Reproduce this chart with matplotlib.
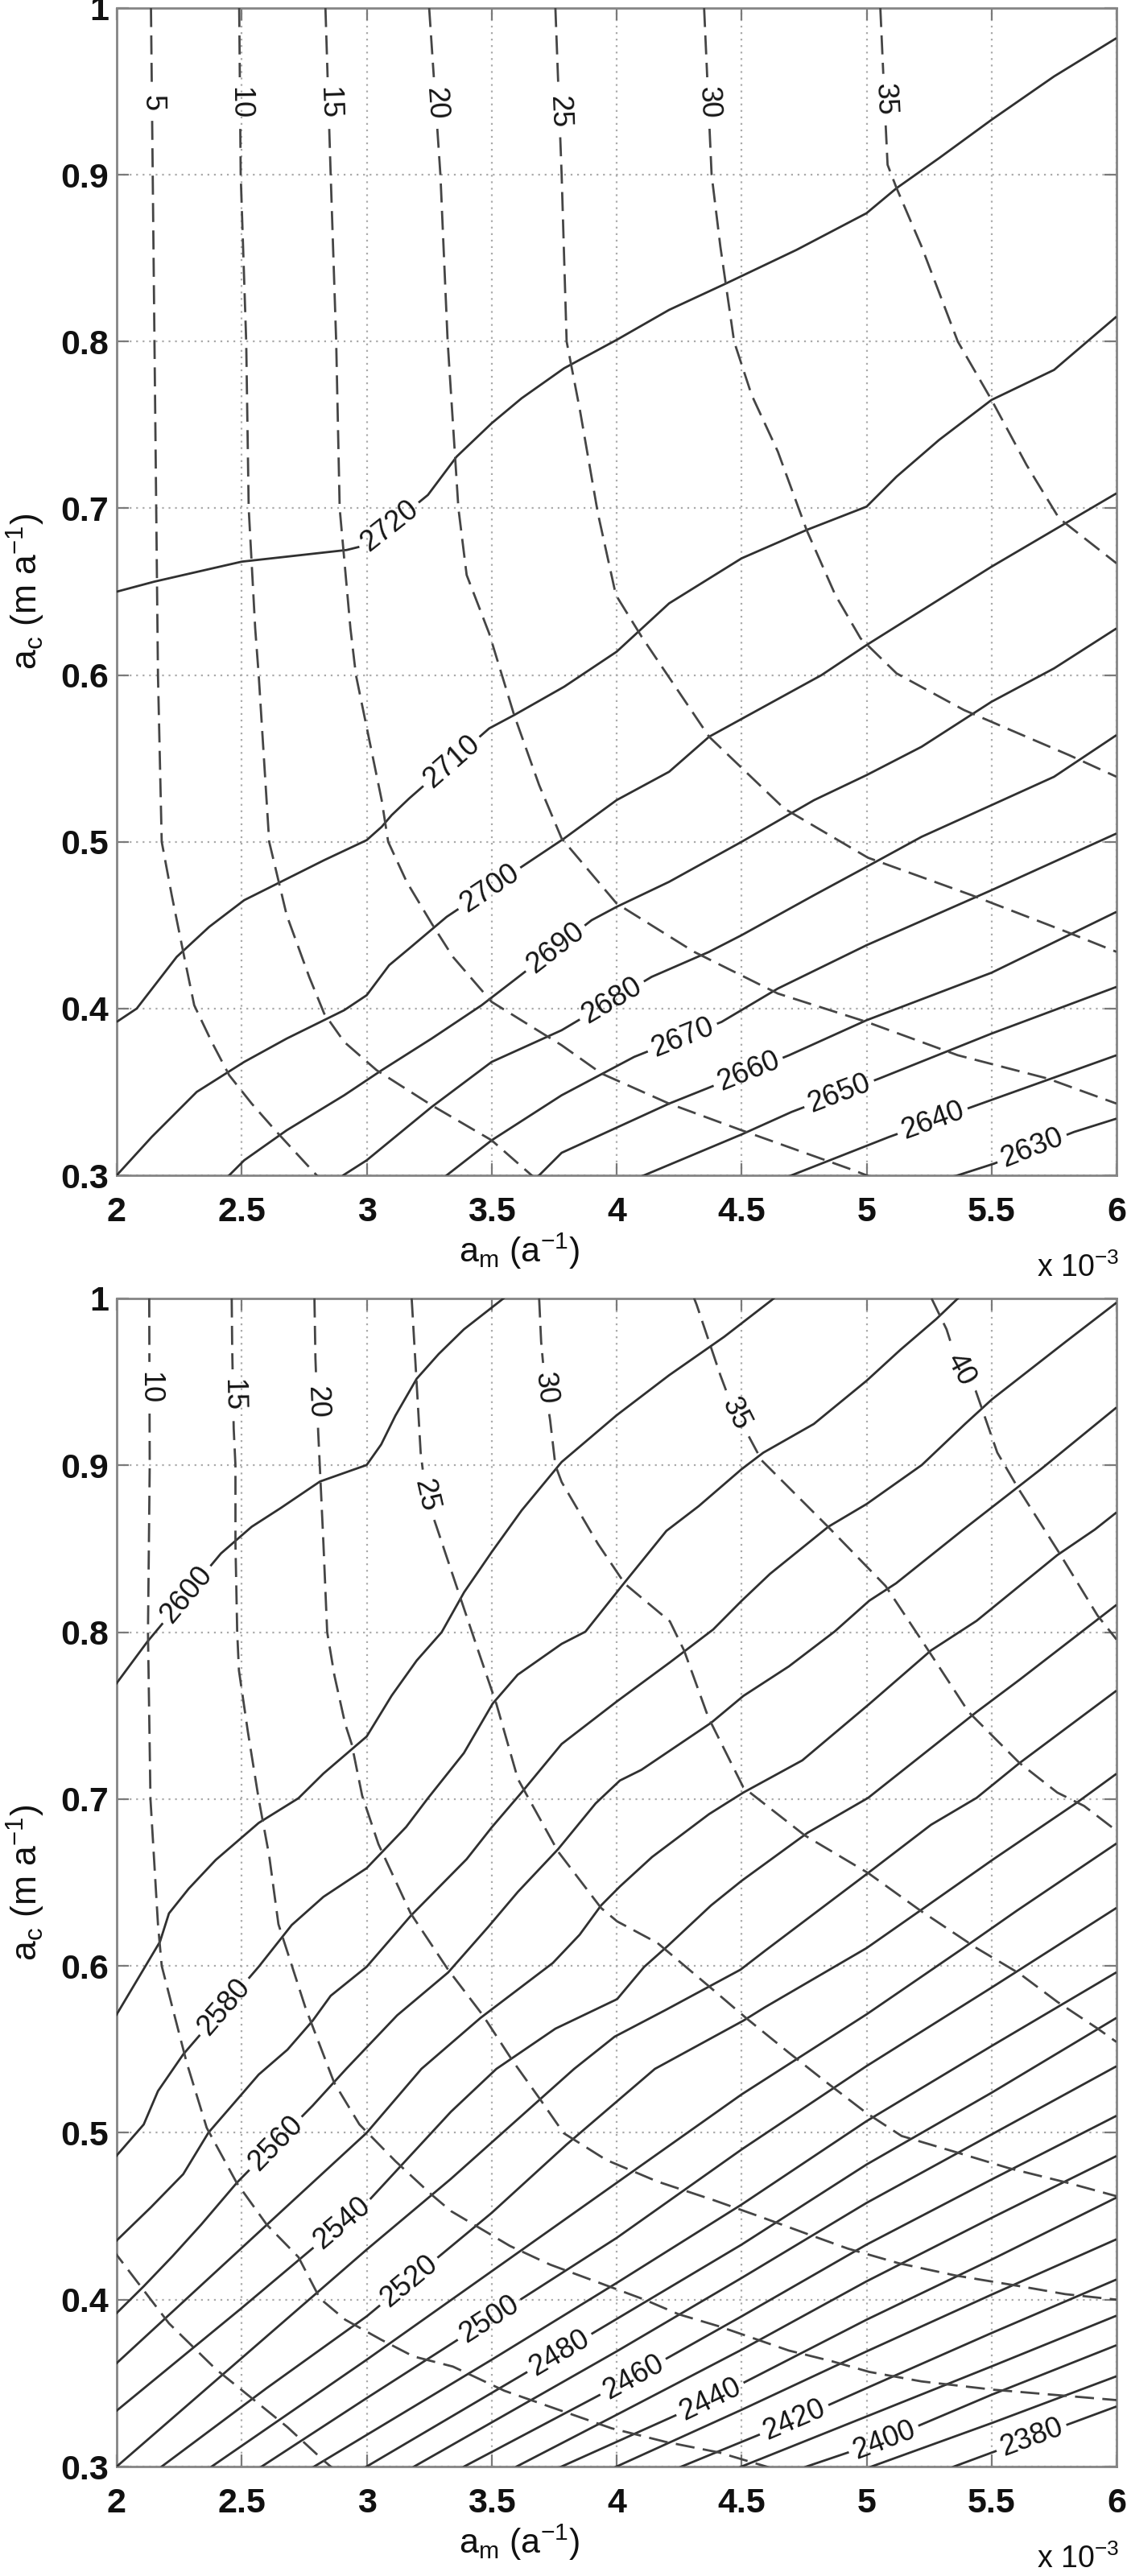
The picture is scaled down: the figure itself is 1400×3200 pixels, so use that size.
import numpy as np
import matplotlib
matplotlib.use("Agg")
import matplotlib.pyplot as plt

plt.rcParams["font.family"] = ["Liberation Sans", "DejaVu Sans"]
plt.rcParams["mathtext.default"] = "regular"
plt.rcParams["lines.scale_dashes"] = False

# ---------------- axis ticks ----------------
am_ticks = [2, 2.5, 3, 3.5, 4, 4.5, 5, 5.5, 6]          # a_m in units of 1e-3 a^-1
am_tick_labels = ["2", "2.5", "3", "3.5", "4", "4.5", "5", "5.5", "6"]
ac_ticks = [0.3, 0.4, 0.5, 0.6, 0.7, 0.8, 0.9, 1.0]
ac_tick_labels = ["0.3", "0.4", "0.5", "0.6", "0.7", "0.8", "0.9", "1"]

# ---------------- top panel : solid contours ----------------
top_solid_levels = [2720, 2710, 2700, 2690, 2680, 2670, 2660, 2650, 2640, 2630]
top_solid_am = [
    [2.0, 2.15, 2.5, 2.92, 3.0, 3.245, 3.36, 3.5, 3.62, 3.79, 4.0, 4.21, 4.44, 4.72, 5.0, 5.12, 5.29, 5.5, 5.75, 6.0],
    [2.0, 2.08, 2.24, 2.37, 2.51, 2.63, 2.83, 3.0, 3.06, 3.10, 3.17, 3.49, 3.59, 3.79, 4.0, 4.21, 4.5, 4.76, 5.0, 5.12, 5.29, 5.5, 5.75, 6.0],
    [1.98, 2.0, 2.14, 2.32, 2.51, 2.68, 2.91, 3.0, 3.09, 3.17, 3.32, 3.65, 3.79, 4.0, 4.21, 4.37, 4.82, 5.0, 5.5, 5.75, 6.0],
    [2.40, 2.45, 2.51, 2.68, 2.91, 3.06, 3.26, 3.46, 3.59, 3.90, 4.0, 4.21, 4.5, 4.79, 5.0, 5.22, 5.5, 5.75, 6.0],
    [2.85, 2.906, 3.0, 3.26, 3.5, 3.78, 4.14, 4.37, 4.5, 4.79, 5.0, 5.22, 5.5, 5.75, 6.0],
    [3.25, 3.32, 3.5, 3.78, 4.07, 4.42, 4.645, 5.0, 5.5, 6.0],
    [3.6, 3.69, 3.78, 4.21, 4.36, 4.69, 5.0, 5.5, 6.0],
    [4.0, 4.11, 4.5, 4.70, 5.05, 5.5, 6.0],
    [4.6, 4.70, 5.09, 5.44, 6.0],
    [5.25, 5.365, 5.51, 5.83, 6.0],
]
top_solid_ac = [
    [0.650, 0.656, 0.668, 0.675, 0.678, 0.708, 0.731, 0.751, 0.766, 0.784, 0.801, 0.819, 0.835, 0.855, 0.877, 0.892, 0.910, 0.933, 0.959, 0.982],
    [0.392, 0.400, 0.431, 0.449, 0.465, 0.474, 0.489, 0.501, 0.509, 0.516, 0.526, 0.568, 0.576, 0.593, 0.614, 0.643, 0.670, 0.687, 0.701, 0.719, 0.741, 0.765, 0.783, 0.815],
    [0.297, 0.300, 0.323, 0.350, 0.368, 0.382, 0.399, 0.408, 0.426, 0.436, 0.455, 0.488, 0.502, 0.525, 0.542, 0.563, 0.600, 0.618, 0.665, 0.687, 0.709],
    [0.292, 0.300, 0.309, 0.327, 0.348, 0.363, 0.382, 0.402, 0.417, 0.453, 0.461, 0.476, 0.500, 0.525, 0.540, 0.557, 0.584, 0.604, 0.628],
    [0.292, 0.300, 0.309, 0.341, 0.368, 0.387, 0.419, 0.434, 0.444, 0.468, 0.485, 0.503, 0.522, 0.539, 0.564],
    [0.291, 0.300, 0.321, 0.348, 0.371, 0.392, 0.412, 0.438, 0.471, 0.505],
    [0.291, 0.300, 0.3135, 0.343, 0.352, 0.372, 0.393, 0.4215, 0.458],
    [0.294, 0.300, 0.3245, 0.338, 0.358, 0.385, 0.413],
    [0.295, 0.300, 0.323, 0.342, 0.372],
    [0.295, 0.300, 0.307, 0.326, 0.334],
]
top_solid_label_at = [(3.11, 0.686), (3.34, 0.548), (3.50, 0.47), (3.76, 0.435), (4.0, 0.40),
                      (4.27, 0.38), (4.54, 0.357), (4.90, 0.345), (5.27, 0.33), (5.67, 0.313)]

# ---------------- top panel : dashed contours ----------------
top_dash_levels = [5, 10, 15, 20, 25, 30, 35]
top_dash_am = [
    [2.137, 2.144, 2.151, 2.158, 2.165, 2.18, 2.22, 2.27, 2.31, 2.38, 2.45, 2.54, 2.64, 2.80, 2.86],
    [2.49, 2.496, 2.518, 2.528, 2.554, 2.568, 2.61, 2.68, 2.77, 2.83, 2.91, 3.04, 3.26, 3.5, 3.66, 3.73],
    [2.835, 2.856, 2.878, 2.892, 2.935, 2.957, 3.06, 3.086, 3.16, 3.26, 3.345, 3.5, 3.78, 3.94, 4.21, 4.5, 4.93, 5.0, 5.05],
    [3.25, 3.295, 3.324, 3.367, 3.40, 3.49, 3.59, 3.69, 3.78, 4.0, 4.31, 4.645, 5.0, 5.365, 5.725, 6.0],
    [3.755, 3.78, 3.80, 3.853, 3.925, 3.997, 4.10, 4.37, 4.67, 5.005, 5.42, 5.80, 6.0],
    [4.35, 4.38, 4.415, 4.47, 4.54, 4.645, 4.76, 4.875, 4.976, 5.12, 5.39, 5.81, 6.0],
    [5.055, 5.07, 5.084, 5.12, 5.22, 5.365, 5.5, 5.64, 5.77, 6.0],
]
top_dash_ac = [
    [1.0, 0.9, 0.8, 0.7, 0.6, 0.5, 0.468, 0.431, 0.402, 0.38, 0.36, 0.343, 0.326, 0.3, 0.291],
    [1.0, 0.9, 0.8, 0.7, 0.628, 0.6, 0.5, 0.456, 0.419, 0.397, 0.38, 0.363, 0.342, 0.321, 0.3, 0.291],
    [1.0, 0.9, 0.8, 0.7, 0.628, 0.6, 0.525, 0.5, 0.476, 0.451, 0.431, 0.404, 0.378, 0.361, 0.343, 0.327, 0.304, 0.3, 0.297],
    [1.0, 0.9, 0.8, 0.7, 0.66, 0.625, 0.576, 0.534, 0.502, 0.463, 0.434, 0.409, 0.392, 0.372, 0.358, 0.343],
    [1.0, 0.9, 0.8, 0.759, 0.697, 0.648, 0.623, 0.563, 0.520, 0.4905, 0.468, 0.446, 0.434],
    [1.0, 0.9, 0.857, 0.8, 0.768, 0.734, 0.687, 0.648, 0.622, 0.601, 0.579, 0.552, 0.539],
    [1.0, 0.95, 0.906, 0.892, 0.857, 0.8, 0.765, 0.726, 0.694, 0.667],
]
top_dash_label_at = [(2.14, 0.943), (2.49, 0.943), (2.845, 0.943), (3.27, 0.943),
                     (3.765, 0.938), (4.36, 0.943), (5.06, 0.945)]

# ---------------- bottom panel : solid contours ----------------
bot_solid_levels = [2600, 2590, 2580, 2570, 2560, 2550, 2540, 2530, 2520, 2510, 2500, 2490,
                    2480, 2470, 2460, 2450, 2440, 2430, 2420, 2410, 2400, 2390, 2380]
bot_solid_am = [
    [1.98, 2.0, 2.122, 2.417, 2.54, 2.655, 2.813, 3.0, 3.058, 3.115, 3.20, 3.288, 3.389, 3.547, 3.6],
    [1.98, 2.0, 2.173, 2.209, 2.288, 2.396, 2.568, 2.727, 2.827, 3.0, 3.10, 3.20, 3.30, 3.39, 3.50, 3.62, 3.78, 4.0, 4.21, 4.43, 4.62, 4.66],
    [1.98, 2.0, 2.108, 2.165, 2.266, 2.568, 2.70, 2.827, 3.0, 3.158, 3.245, 3.389, 3.504, 3.604, 3.78, 3.875, 4.026, 4.199, 4.328, 4.50, 4.587, 4.789, 5.0, 5.135, 5.279, 5.365, 5.40],
    [1.98, 2.0, 2.137, 2.266, 2.367, 2.482, 2.568, 2.683, 2.784, 2.856, 3.0, 3.176, 3.40, 3.5, 3.62, 3.78, 4.0, 4.213, 4.386, 4.50, 4.614, 4.847, 5.0, 5.221, 5.394, 5.502, 5.797, 6.0],
    [1.98, 2.0, 2.108, 2.223, 2.338, 2.482, 2.784, 2.918, 3.122, 3.326, 3.487, 3.605, 3.766, 3.916, 4.013, 4.099, 4.378, 4.507, 4.689, 4.872, 5.011, 5.118, 5.387, 5.7, 6.0],
    [1.98, 2.0, 2.5, 3.0, 3.219, 3.455, 3.745, 3.852, 3.938, 4.013, 4.142, 4.37, 4.507, 4.743, 5.011, 5.258, 5.44, 5.763, 5.913, 6.0],
    [1.98, 2.0, 2.5, 3.0, 3.337, 3.519, 3.755, 4.002, 4.11, 4.206, 4.378, 4.5, 4.764, 5.006, 5.44, 5.612, 6.0],
    [1.98, 2.0, 2.5, 3.0, 3.337, 3.83, 3.992, 4.196, 4.496, 4.593, 5.006, 5.258, 5.44, 5.612, 6.0],
    [2.15, 2.18, 2.6, 3.0, 3.5, 3.8, 4.153, 4.507, 4.593, 5.0, 5.215, 5.505, 5.838, 6.0],
    [2.35, 2.38, 3.0, 3.5, 4.0, 4.5, 5.0, 5.387, 5.602, 6.0],
    [2.55, 2.58, 3.0, 4.0, 4.5, 5.0, 5.5, 6.0],
    [2.76, 2.79, 3.5, 4.0, 4.5, 5.0, 5.5, 6.0],
    [2.97, 3.0, 3.771, 4.5, 5.0, 5.5, 6.0],
    [3.16, 3.19, 4.0, 4.5, 5.0, 5.5, 6.0],
    [3.36, 3.39, 4.065, 4.5, 5.0, 5.5, 6.0],
    [3.57, 3.60, 4.0, 4.5, 5.0, 5.5, 6.0],
    [3.75, 3.78, 4.375, 5.0, 5.5, 6.0],
    [3.97, 4.0, 4.5, 5.0, 5.5, 6.0],
    [4.23, 4.26, 4.711, 5.0, 5.5, 6.0],
    [4.47, 4.5, 5.0, 5.5, 6.0],
    [4.73, 4.76, 5.07, 5.5, 6.0],
    [4.99, 5.02, 5.5, 6.0],
    [5.32, 5.35, 6.0],
]
bot_solid_ac = [
    [0.765, 0.7695, 0.7942, 0.8472, 0.8632, 0.8743, 0.8903, 0.9002, 0.9125, 0.9298, 0.9519, 0.9667, 0.9815, 1.0, 1.006],
    [0.566, 0.571, 0.6145, 0.6315, 0.6463, 0.6635, 0.6857, 0.7005, 0.7153, 0.7375, 0.762, 0.783, 0.800, 0.824, 0.848, 0.873, 0.902, 0.930, 0.954, 0.977, 0.999, 1.004],
    [0.482, 0.4864, 0.505, 0.525, 0.547, 0.5995, 0.6245, 0.6414, 0.6586, 0.6833, 0.7005, 0.7276, 0.7572, 0.7745, 0.793, 0.8003, 0.8287, 0.8607, 0.8755, 0.8977, 0.9076, 0.9248, 0.9507, 0.9692, 0.9877, 1.0, 1.005],
    [0.432, 0.4355, 0.4554, 0.4752, 0.5001, 0.520, 0.5349, 0.5498, 0.5672, 0.5821, 0.5995, 0.630, 0.664, 0.683, 0.704, 0.733, 0.7584, 0.7819, 0.8016, 0.8188, 0.835, 0.8632, 0.8768, 0.9002, 0.9248, 0.9396, 0.9741, 0.9975],
    [0.389, 0.392, 0.408, 0.426, 0.445, 0.4703, 0.5163, 0.5383, 0.5704, 0.5961, 0.6235, 0.6444, 0.670, 0.6974, 0.7111, 0.7175, 0.7457, 0.7618, 0.7795, 0.8004, 0.8189, 0.8293, 0.8615, 0.898, 0.9347],
    [0.359, 0.362, 0.431, 0.500, 0.5383, 0.5688, 0.6018, 0.6187, 0.6363, 0.6476, 0.6653, 0.691, 0.7039, 0.7232, 0.757, 0.7891, 0.8068, 0.8462, 0.8615, 0.8718],
    [0.331, 0.3335, 0.395, 0.458, 0.5126, 0.5383, 0.5624, 0.5801, 0.5994, 0.6122, 0.6363, 0.651, 0.6798, 0.7007, 0.7522, 0.7715, 0.8164],
    [0.297, 0.300, 0.365, 0.43, 0.4724, 0.5383, 0.5576, 0.5736, 0.5978, 0.609, 0.6557, 0.6846, 0.7007, 0.7216, 0.765],
    [0.296, 0.300, 0.347, 0.39, 0.452, 0.493, 0.5383, 0.5672, 0.5752, 0.6107, 0.6332, 0.6637, 0.6975, 0.7152],
    [0.296, 0.300, 0.364, 0.417, 0.47, 0.523, 0.571, 0.6107, 0.6332, 0.6734],
    [0.297, 0.300, 0.341, 0.437, 0.49, 0.540, 0.587, 0.6348],
    [0.297, 0.300, 0.364, 0.41, 0.457, 0.507, 0.552, 0.5962],
    [0.297, 0.300, 0.368, 0.433, 0.481, 0.524, 0.5689],
    [0.297, 0.300, 0.369, 0.413, 0.458, 0.499, 0.5399],
    [0.297, 0.300, 0.3534, 0.39, 0.433, 0.472, 0.5102],
    [0.297, 0.300, 0.331, 0.37, 0.411, 0.449, 0.4861],
    [0.298, 0.300, 0.340, 0.388, 0.424, 0.4612],
    [0.298, 0.300, 0.334, 0.369, 0.403, 0.4362],
    [0.298, 0.300, 0.3277, 0.347, 0.38, 0.4121],
    [0.298, 0.300, 0.33, 0.36, 0.3904],
    [0.298, 0.300, 0.3157, 0.343, 0.3727],
    [0.298, 0.300, 0.326, 0.3541],
    [0.298, 0.300, 0.336],
]
bot_solid_label_at = [(2.30, 0.82), None, (2.45, 0.573), None, (2.66, 0.49), None, (2.91, 0.444), None,
                      (3.173, 0.41), None, (3.49, 0.388), None, (3.771, 0.368), None, (4.067, 0.3534), None,
                      (4.375, 0.340), None, (4.711, 0.3277), None, (5.07, 0.3157), None, (5.66, 0.317)]

# ---------------- bottom panel : dashed contours ----------------
bot_dash_levels = [5, 10, 15, 20, 25, 30, 35, 40]
bot_dash_am = [
    [1.98, 2.0, 2.108, 2.209, 2.396, 2.54, 2.683, 2.827, 2.856, 2.89],
    [2.13, 2.132, 2.125, 2.135, 2.165, 2.18, 2.223, 2.28, 2.36, 2.48, 2.6, 2.727, 2.813, 2.914, 3.058, 3.187, 3.345, 3.551, 3.766, 3.98, 4.195, 4.41, 4.625, 4.7],
    [2.46, 2.462, 2.468, 2.475, 2.475, 2.482, 2.489, 2.525, 2.568, 2.61, 2.647, 2.755, 2.87, 2.971, 3.115, 3.259, 3.337, 3.573, 3.734, 3.938, 4.11, 4.249, 4.41, 4.689, 4.861, 5.011, 5.22, 5.51, 6.0],
    [2.791, 2.795, 2.806, 2.813, 2.827, 2.842, 2.871, 2.914, 2.94, 2.982, 3.047, 3.176, 3.326, 3.465, 3.584, 3.691, 3.788, 3.959, 4.163, 4.389, 4.571, 4.775, 4.925, 5.129, 5.355, 5.612, 5.795, 6.0],
    [3.18, 3.2, 3.216, 3.237, 3.28, 3.374, 3.446, 3.519, 3.605, 3.766, 3.938, 4.002, 4.163, 4.367, 4.517, 4.689, 4.839, 5.0, 5.14, 5.355, 5.569, 5.805, 6.0],
    [3.69, 3.698, 3.715, 3.734, 3.755, 3.78, 3.925, 4.033, 4.213, 4.27, 4.367, 4.507, 4.753, 5.006, 5.215, 5.44, 5.612, 5.763, 5.924, 6.0],
    [4.305, 4.32, 4.415, 4.47, 4.53, 4.58, 4.847, 5.076, 5.247, 5.408, 5.612, 5.763, 5.87, 6.0],
    [5.26, 5.32, 5.37, 5.437, 5.523, 5.61, 5.773, 5.924, 6.0],
]
bot_dash_ac = [
    [0.431, 0.4268, 0.4056, 0.3858, 0.3584, 0.341, 0.3236, 0.3037, 0.3, 0.296],
    [1.0, 0.9, 0.8, 0.7, 0.625, 0.6, 0.575, 0.542, 0.503, 0.47, 0.445, 0.4255, 0.4007, 0.388, 0.376, 0.366, 0.3599, 0.3454, 0.3341, 0.3229, 0.3148, 0.3084, 0.2988, 0.297],
    [1.0, 0.97, 0.922, 0.90, 0.853, 0.80, 0.777, 0.74, 0.70, 0.666, 0.625, 0.575, 0.53, 0.505, 0.483, 0.463, 0.4531, 0.4322, 0.421, 0.4097, 0.4001, 0.3912, 0.384, 0.3695, 0.3631, 0.3567, 0.351, 0.346, 0.3398],
    [1.0, 0.964, 0.92, 0.898, 0.853, 0.80, 0.774, 0.745, 0.733, 0.702, 0.673, 0.6315, 0.5977, 0.5704, 0.5431, 0.5207, 0.4998, 0.4837, 0.4708, 0.4596, 0.4499, 0.4387, 0.4306, 0.4218, 0.4145, 0.4081, 0.4033, 0.4],
    [1.0, 0.949, 0.9076, 0.882, 0.863, 0.821, 0.789, 0.757, 0.712, 0.6685, 0.6347, 0.6267, 0.6138, 0.5881, 0.5689, 0.548, 0.5303, 0.5118, 0.4981, 0.4885, 0.4788, 0.47, 0.462],
    [1.0, 0.974, 0.946, 0.927, 0.90, 0.89, 0.853, 0.829, 0.8065, 0.789, 0.7489, 0.707, 0.6782, 0.6557, 0.6332, 0.6107, 0.5954, 0.5785, 0.5625, 0.5544],
    [1.002, 0.9963, 0.954, 0.932, 0.917, 0.903, 0.863, 0.8277, 0.7891, 0.7522, 0.7216, 0.7039, 0.6959, 0.681],
    [1.0, 0.9815, 0.958, 0.9445, 0.9076, 0.8854, 0.847, 0.81, 0.7956],
]
bot_dash_label_at = [None, (2.13, 0.9465), (2.462, 0.942), (2.80, 0.938), (3.237, 0.882),
                     (3.715, 0.946), (4.48, 0.931), (5.372, 0.957)]

# ---------------- figure ----------------
W, H = 1400, 3200
fig = plt.figure(figsize=(W / 100, H / 100), dpi=100)
fig.patch.set_facecolor("white")
renderer = fig.canvas.get_renderer()

AX_L, AX_R = 145, 1387
SOLID = dict(color="#303030", lw=2.0, solid_capstyle="butt", solid_joinstyle="round", zorder=3)
DASH = dict(color="#454545", lw=2.0, linestyle=(0, (17, 7.5)), dash_capstyle="butt",
            dash_joinstyle="round", zorder=3)
LABEL_FS = 26
TICK_FS = 31


def text_width(s, fs):
    t = fig.text(0, 0, s, fontsize=fs)
    w = t.get_window_extent(renderer=renderer).width
    t.remove()
    return w


def draw_line(ax, xs, ys, style, label=None, anchor=None, pad=6):
    xs = np.asarray(xs, float)
    ys = np.asarray(ys, float)
    if label is None or anchor is None:
        ax.plot(xs, ys, **style)
        return
    P = ax.transData.transform(np.column_stack([xs, ys]))
    d = np.diff(P, axis=0)
    seg = np.hypot(d[:, 0], d[:, 1])
    s = np.concatenate([[0.0], np.cumsum(seg)])
    A = ax.transData.transform((anchor[0], anchor[1]))
    best, s0 = np.inf, 0.0
    for i in range(len(seg)):
        if seg[i] <= 0:
            continue
        t = np.clip(np.dot(A - P[i], d[i]) / seg[i] ** 2, 0.0, 1.0)
        q = P[i] + t * d[i]
        dist = np.hypot(*(A - q))
        if dist < best:
            best, s0 = dist, s[i] + t * seg[i]
    w = text_width(label, LABEL_FS)
    half = w / 2.0

    def at(sv):
        return np.interp(sv, s, xs), np.interp(sv, s, ys)

    sa, sb = s0 - half - pad, s0 + half + pad
    m1 = s < sa
    if m1.any():
        xa, ya = at(sa)
        ax.plot(np.append(xs[m1], xa), np.append(ys[m1], ya), **style)
    m2 = s > sb
    if m2.any():
        xb, yb = at(sb)
        ax.plot(np.insert(xs[m2], 0, xb), np.insert(ys[m2], 0, yb), **style)
    p1 = ax.transData.transform(at(s0 - half))
    p2 = ax.transData.transform(at(s0 + half))
    ang = np.degrees(np.arctan2(p2[1] - p1[1], p2[0] - p1[0]))
    ang = (ang + 90.0) % 180.0 - 90.0
    xc, yc = at(s0)
    ax.text(xc, yc, label, rotation=ang, rotation_mode="anchor", ha="center", va="center",
            fontsize=LABEL_FS, color="#151515", zorder=5)


def make_axes(top_px, bot_px):
    ax = fig.add_axes([AX_L / W, 1 - bot_px / H, (AX_R - AX_L) / W, (bot_px - top_px) / H])
    ax.set_xlim(2, 6)
    ax.set_ylim(0.3, 1.0)
    ax.set_xticks(am_ticks)
    ax.set_xticklabels(am_tick_labels, fontsize=TICK_FS, fontweight="bold")
    ax.set_yticks(ac_ticks)
    ax.set_yticklabels(ac_tick_labels, fontsize=TICK_FS, fontweight="bold")
    ax.tick_params(axis="both", direction="in", length=11, width=1.6, color="#7a7a7a",
                   top=True, right=True, labelcolor="#111111")
    ax.tick_params(axis="x", pad=19)
    ax.tick_params(axis="y", pad=7)
    ax.grid(True, color="#aaaaaa", linestyle=(0, (1.6, 4.2)), linewidth=1.6, zorder=0)
    ax.set_axisbelow(True)
    for sp in ax.spines.values():
        sp.set_color("#858585")
        sp.set_linewidth(2.0)
    hpx = bot_px - top_px
    ax.text(0.4026, -108 / hpx, "a$_m$ (a$^{-1}$)", transform=ax.transAxes, ha="center",
            va="baseline", fontsize=31, color="#111111")
    ax.text(1.0 + 3 / (AX_R - AX_L), -126 / hpx, "x 10$^{-3}$", transform=ax.transAxes,
            ha="right", va="baseline", fontsize=27, color="#111111")
    fig.text(32 / W, 1 - (top_px + bot_px) / 2 / H, "a$_c$ (m a$^{-1}$)", rotation=90,
             ha="center", va="center", fontsize=32, color="#111111")
    return ax


ax1 = make_axes(10, 1460)
ax2 = make_axes(1613, 3064)

for lev, xs, ys, lab in zip(top_solid_levels, top_solid_am, top_solid_ac, top_solid_label_at):
    draw_line(ax1, xs, ys, SOLID, str(lev), lab, pad=6)
for lev, xs, ys, lab in zip(top_dash_levels, top_dash_am, top_dash_ac, top_dash_label_at):
    draw_line(ax1, xs, ys, DASH, str(lev), lab, pad=12)
for lev, xs, ys, lab in zip(bot_solid_levels, bot_solid_am, bot_solid_ac, bot_solid_label_at):
    draw_line(ax2, xs, ys, SOLID, str(lev), lab, pad=6)
for lev, xs, ys, lab in zip(bot_dash_levels, bot_dash_am, bot_dash_ac, bot_dash_label_at):
    draw_line(ax2, xs, ys, DASH, str(lev), lab, pad=12)

fig.savefig("out.png", dpi=100, facecolor="white")
